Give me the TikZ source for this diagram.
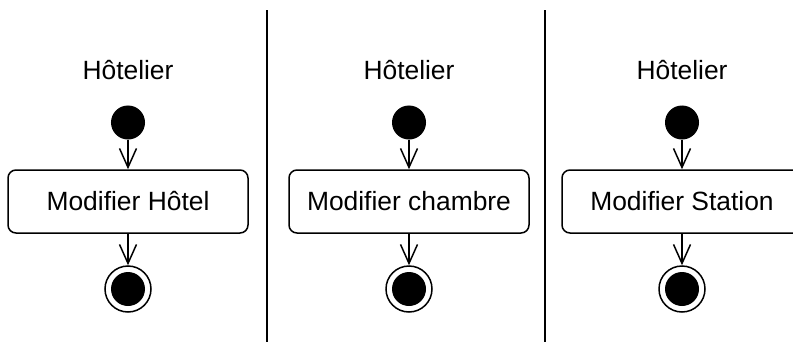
\documentclass[tikz,border=0pt]{standalone}
\usepackage{fontspec}
\setmainfont{Liberation Sans}
\usetikzlibrary{arrows.meta}
\tikzset{
  lane/.style={font=\fontsize{26.4pt}{30pt}\selectfont},
  startnode/.style={circle,fill=black,draw=black,line width=1pt,minimum size=33pt,inner sep=0pt},
  actbox/.style={draw=black,line width=1.5pt,rounded corners=8pt,minimum width=240pt,minimum height=63pt,inner sep=0pt,font=\fontsize{26.4pt}{30pt}\selectfont},
  endouter/.style={circle,draw=black,line width=1.5pt,minimum size=46pt,inner sep=0pt},
  endinner/.style={circle,fill=black,minimum size=34pt,inner sep=0pt},
  flow/.style={line width=1.5pt,-{Straight Barb[length=19pt,width=17pt,line width=1.5pt]}},
  divider/.style={line width=1.5pt}
}
\begin{document}
\begin{tikzpicture}[x=1pt,y=-1pt]
\clip (0,0) rectangle (793,343);
\useasboundingbox (0,0) rectangle (793,343);
\foreach \i/\cx/\txt in {1/128/{Modifier Hôtel},2/409/{Modifier chambre},3/682/{Modifier Station}}{
  \node[lane] (title\i) at (\cx,70) {Hôtelier};
  \node[startnode] (start\i) at (\cx,122.5) {};
  \node[actbox] (act\i) at (\cx,201.5) {\txt};
  \node[endouter] (end\i) at (\cx,289) {};
  \node[endinner] (endin\i) at (\cx,289) {};
  \draw[flow] (start\i) -- (act\i);
  \draw[flow] (act\i) -- (end\i);
}
\coordinate (d1t) at (267,10);
\coordinate (d1b) at (267,342);
\coordinate (d2t) at (545,10);
\coordinate (d2b) at (545,342);
\draw[divider] (d1t) -- (d1b);
\draw[divider] (d2t) -- (d2b);
\end{tikzpicture}
\end{document}
